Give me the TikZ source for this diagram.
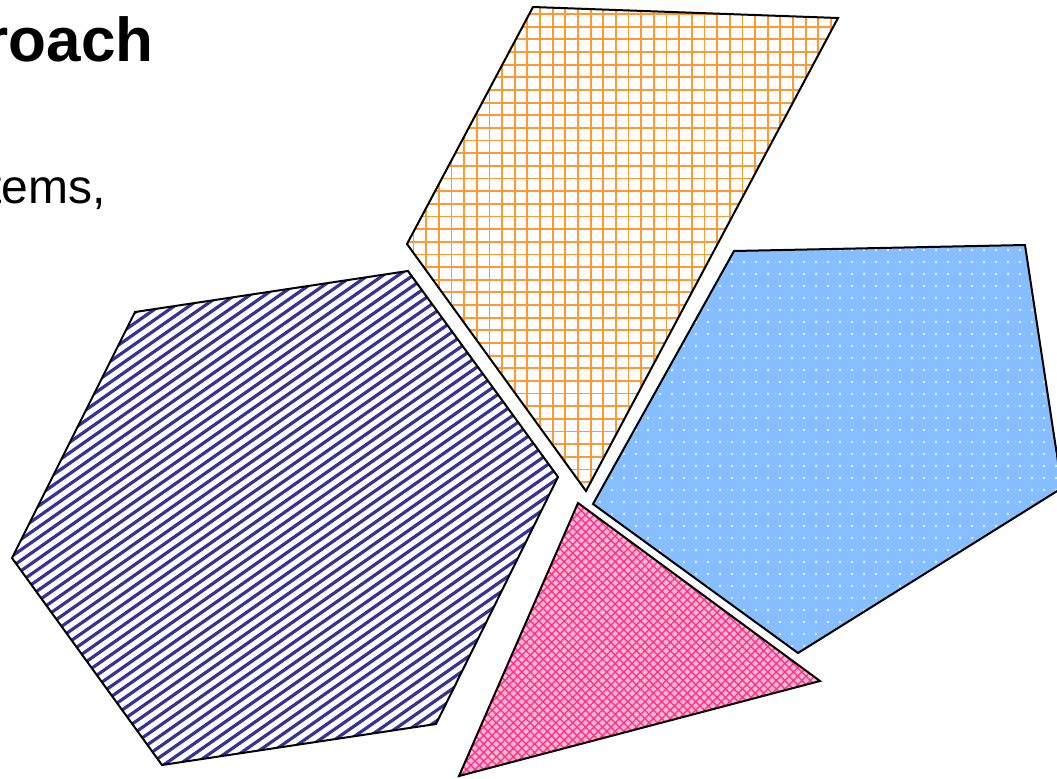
\documentclass[tikz,border=0pt]{standalone}
\usepackage{fontspec}
\setmainfont{Liberation Sans}
\usetikzlibrary{patterns.meta}
\definecolor{hexblue}{RGB}{51,51,153}
\definecolor{gridorange}{RGB}{255,153,51}
\definecolor{pentblue}{RGB}{135,190,255}
\definecolor{tripink}{RGB}{255,51,136}
\definecolor{tripinklight}{RGB}{255,185,212}

\begin{document}
\begin{tikzpicture}[x=0.5pt, y=-0.5pt, every node/.style={inner sep=0pt}]
\tikzset{piece/.style={draw=black, line width=1pt, line join=miter}}
\tikzset{stripe/.style={hexblue, line width=1.6pt}}
\tikzset{gridline/.style={gridorange, line width=0.9pt}}
\useasboundingbox (0,0) rectangle (1057,778);
\node[font=\fontsize{31}{38}\selectfont\bfseries, anchor=base east] (title) at (154,61) {roach};
\node[font=\fontsize{24}{30}\selectfont, anchor=base east] (body) at (106,203) {tems,};
% hexagon, striped
\begin{scope}
  \clip (135,312) -- (408,271) -- (558,477) -- (436,724) -- (162,765) -- (12,558) -- cycle;
  \foreach \c in {260,270.5,...,1200}
    \draw[stripe] (0,\c) -- (600,\c-420);
\end{scope}
\draw[piece] (135,312) -- (408,271) -- (558,477) -- (436,724) -- (162,765) -- (12,558) -- cycle;
% quadrilateral, grid
\begin{scope}
  \clip (533,7) -- (838,18) -- (586,491) -- (407,244) -- cycle;
  \foreach \gx in {400.85,413.5,...,845}
    \draw[gridline] (\gx,0) -- (\gx,500);
  \foreach \gy in {1.4,14.05,...,500}
    \draw[gridline] (400,\gy) -- (850,\gy);
\end{scope}
\draw[piece] (533,7) -- (838,18) -- (586,491) -- (407,244) -- cycle;
% pentagon, dotted
\draw[piece, preaction={fill=pentblue}, pattern={Dots[distance=6pt, radius=0.6pt]}, pattern color=white]
  (734,251) -- (1025,245) -- (1062,488) -- (798,653) -- (593,504) -- cycle;
% triangle
\draw[piece, preaction={fill=tripinklight}, pattern={Hatch[angle=45, distance=3pt, line width=0.7pt]}, pattern color=tripink]
  (578,503) -- (820,681) -- (459,776) -- cycle;
\end{tikzpicture}
\end{document}
